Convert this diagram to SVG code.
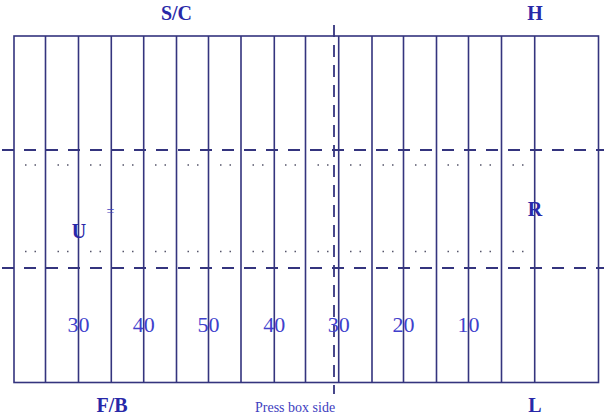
<svg xmlns="http://www.w3.org/2000/svg" width="604" height="418" viewBox="0 0 604 418">
  <style>
    .bg { fill: #ffffff; }
    .ln { stroke: #34347e; stroke-width: 1.6; fill: none; }
    .dash { stroke: #34347e; stroke-width: 1.8; fill: none; stroke-dasharray: 12 10; }
    .vdash { stroke: #34347e; stroke-width: 1.8; fill: none; stroke-dasharray: 12 8; }
    .dots { stroke: #55556a; stroke-width: 1.5; fill: none; stroke-dasharray: 1.5 8 1.5 21.5; }
    .lbl { font-family: "Liberation Serif", "Times New Roman", serif; font-weight: bold; font-size: 20px; fill: #2828a8; text-anchor: middle; }
    .num { font-family: "Liberation Serif", "Times New Roman", serif; font-size: 22px; fill: #4040cc; text-anchor: middle; }
    .small { font-family: "Liberation Serif", "Times New Roman", serif; font-size: 14px; fill: #4040c0; }
  </style>
  <rect class="bg" x="0" y="0" width="604" height="418"/>
  <g id="field">
    <rect class="ln" x="14" y="36" width="584.5" height="346.5"/>
    <path class="ln" d="M45.5 36V382.5 M78.5 36V382.5 M111.3 36V382.5 M143.7 36V382.5 M176.5 36V382.5 M208.5 36V382.5 M241 36V382.5 M274.3 36V382.5 M305.5 36V382.5 M338.7 36V382.5 M372 36V382.5 M403.5 36V382.5 M436.5 36V382.5 M468.5 36V382.5 M501.5 36V382.5 M534.7 36V382.5"/>
  </g>
  <g id="connectors">
    <line class="dash" x1="2" y1="150" x2="604" y2="150"/>
    <line class="dash" x1="2" y1="268" x2="604" y2="268"/>
    <line class="vdash" x1="334" y1="25" x2="334" y2="394"/>
    <path class="dots" d="M25 165H533 M25 251.5H533"/>
  </g>
  <g id="numbers">
    <text class="num" x="78.5" y="332">30</text>
    <text class="num" x="143.7" y="332">40</text>
    <text class="num" x="208.5" y="332">50</text>
    <text class="num" x="274.3" y="332">40</text>
    <text class="num" x="338.7" y="332">30</text>
    <text class="num" x="403.5" y="332">20</text>
    <text class="num" x="468.5" y="332">10</text>
  </g>
  <g id="label-sc"><text class="lbl" x="176.5" y="20">S/C</text></g>
  <g id="label-h"><text class="lbl" x="535" y="20">H</text></g>
  <g id="label-u"><text class="lbl" x="79" y="238">U</text></g>
  <g id="label-eq"><text class="small" x="110.5" y="216" text-anchor="middle" font-size="12px">=</text></g>
  <g id="label-r"><text class="lbl" x="535" y="216">R</text></g>
  <g id="label-fb"><text class="lbl" x="112" y="412">F/B</text></g>
  <g id="label-press"><text class="small" x="255" y="412">Press box side</text></g>
  <g id="label-l"><text class="lbl" x="535" y="412">L</text></g>
</svg>
